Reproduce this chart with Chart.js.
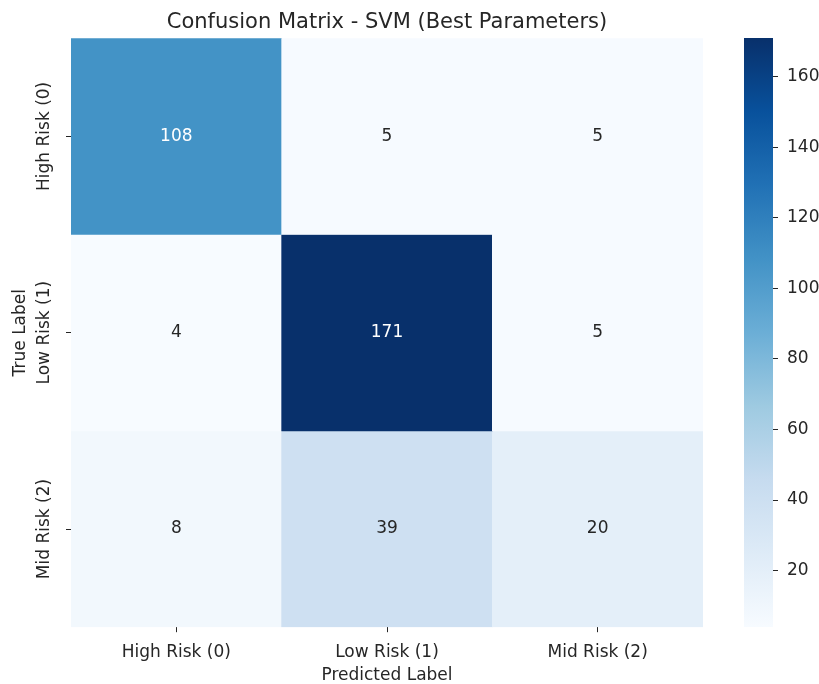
<!DOCTYPE html>
<html>
<head>
<meta charset="utf-8">
<script src="https://cdn.jsdelivr.net/npm/chart.js@4.4.1/dist/chart.umd.min.js"></script>
<style>
  html, body { margin: 0; padding: 0; background: #fff; }
  #wrap { position: relative; width: 819px; height: 684px; }
  #wrap canvas { position: absolute; left: 0; top: 0; }
</style>
</head>
<body>
<div id="wrap">
  <canvas id="matrixChart" width="819" height="684"></canvas>
  <canvas id="colorbarChart" width="819" height="684"></canvas>
</div>
<script>
// confusion matrix, one array per true-label row
const predictedLabels = ['High Risk (0)', 'Low Risk (1)', 'Mid Risk (2)'];
const trueLabels = ['High Risk (0)', 'Low Risk (1)', 'Mid Risk (2)'];
const rowHighRisk = [108, 5, 5];
const rowLowRisk = [4, 171, 5];
const rowMidRisk = [8, 39, 20];
const colorbarTicks = [20, 40, 60, 80, 100, 120, 140, 160];

const matrix = [rowHighRisk, rowLowRisk, rowMidRisk];
const vmin = Math.min(...matrix.flat());
const vmax = Math.max(...matrix.flat());

const textColor = '#262626';
const fontFamily = "'DejaVu Sans', sans-serif";
Chart.defaults.font.family = fontFamily;
Chart.defaults.color = textColor;

// matplotlib "Blues"
const bluesStops = ['#f7fbff', '#deebf7', '#c6dbef', '#9ecae1', '#6baed6',
                    '#4292c6', '#2171b5', '#08519c', '#08306b'];

function hexToRgb(h) {
  return [1, 3, 5].map(i => parseInt(h.slice(i, i + 2), 16));
}

function blues(v) {
  let t = (v - vmin) / (vmax - vmin);
  t = Math.max(0, Math.min(1, t));
  const pos = t * (bluesStops.length - 1);
  const i = Math.min(Math.floor(pos), bluesStops.length - 2);
  const f = pos - i;
  const a = hexToRgb(bluesStops[i]);
  const b = hexToRgb(bluesStops[i + 1]);
  const c = a.map((x, k) => Math.round(x + (b[k] - x) * f));
  return 'rgb(' + c.join(',') + ')';
}

// write the counts in the middle of each cell
const cellLabels = {
  id: 'cellLabels',
  afterDatasetsDraw(chart) {
    const ctx = chart.ctx;
    ctx.save();
    ctx.font = '17px ' + fontFamily;
    ctx.textAlign = 'center';
    ctx.textBaseline = 'middle';
    chart.data.datasets.forEach((ds, r) => {
      chart.getDatasetMeta(r).data.forEach((bar, c) => {
        const v = matrix[r][c];
        const t = (v - vmin) / (vmax - vmin);
        ctx.fillStyle = t > 0.55 ? '#ffffff' : textColor;
        ctx.fillText(String(v), bar.x, (bar.y + bar.base) / 2);
      });
    });
    ctx.restore();
  }
};

// vertical y tick labels (Chart.js can't center rotated y labels)
const yTickLabels = {
  id: 'yTickLabels',
  afterDraw(chart) {
    const scale = chart.scales.y;
    const ctx = chart.ctx;
    ctx.save();
    ctx.font = '17px ' + fontFamily;
    ctx.fillStyle = textColor;
    ctx.textAlign = 'center';
    ctx.textBaseline = 'middle';
    scale.ticks.forEach((t, i) => {
      ctx.save();
      ctx.translate(scale.right - 26, scale.getPixelForValue(t.value));
      ctx.rotate(-Math.PI / 2);
      ctx.fillText(trueLabels[i], 0, 0);
      ctx.restore();
    });
    ctx.restore();
  }
};

new Chart(document.getElementById('matrixChart'), {
  type: 'bar',
  data: {
    labels: predictedLabels,
    datasets: matrix.map((row, r) => ({
      label: trueLabels[r],
      data: row.map(() => [r, r + 1]),
      backgroundColor: row.map(v => blues(v)),
      borderWidth: 0,
      categoryPercentage: 1,
      barPercentage: 1,
      grouped: false
    }))
  },
  options: {
    responsive: false,
    animation: false,
    devicePixelRatio: 1,
    layout: { padding: { left: 10, right: 116, top: 0, bottom: 0 } },
    plugins: {
      legend: { display: false },
      tooltip: { enabled: false },
      title: {
        display: true,
        fullSize: false,
        text: 'Confusion Matrix - SVM (Best Parameters)',
        color: textColor,
        font: { size: 21, weight: 'normal' },
        padding: { top: 10, bottom: 3 }
      }
    },
    scales: {
      x: {
        grid: { offset: false, drawOnChartArea: false, tickLength: 5, color: textColor },
        border: { display: false },
        ticks: { font: { size: 17 }, color: textColor, padding: 10, maxRotation: 0 },
        title: {
          display: true,
          text: 'Predicted Label',
          color: textColor,
          font: { size: 17 },
          padding: { top: -7, bottom: -2 }
        }
      },
      y: {
        min: 0,
        max: 3,
        reverse: true,
        afterBuildTicks: scale => {
          scale.ticks = trueLabels.map((_, i) => ({ value: i + 0.5 }));
        },
        grid: { drawOnChartArea: false, tickLength: 5, color: textColor },
        border: { display: false },
        ticks: { callback: () => '', padding: 15.8 },
        title: {
          display: true,
          text: 'True Label',
          color: textColor,
          font: { size: 17 },
          padding: { top: 0, bottom: 4 }
        }
      }
    }
  },
  plugins: [cellLabels, yTickLabels]
});

// colorbar
new Chart(document.getElementById('colorbarChart'), {
  type: 'bar',
  data: {
    labels: [''],
    datasets: [{
      data: [[vmin, vmax]],
      backgroundColor: ctx => {
        const area = ctx.chart.chartArea;
        if (!area) return bluesStops[4];
        const g = ctx.chart.ctx.createLinearGradient(0, area.bottom, 0, area.top);
        bluesStops.forEach((c, i) => g.addColorStop(i / (bluesStops.length - 1), c));
        return g;
      },
      borderWidth: 0,
      categoryPercentage: 1,
      barPercentage: 1
    }]
  },
  options: {
    responsive: false,
    animation: false,
    devicePixelRatio: 1,
    layout: { padding: { left: 744, right: 0, top: 38, bottom: 57 } },
    plugins: { legend: { display: false }, tooltip: { enabled: false } },
    scales: {
      x: { display: false },
      y: {
        position: 'right',
        min: vmin,
        max: vmax,
        afterBuildTicks: scale => {
          scale.ticks = colorbarTicks.map(v => ({ value: v }));
        },
        // the layout caps a side axis at half the free width, so force it
        afterFit: scale => { scale.width = 46; },
        grid: { drawOnChartArea: false, tickLength: 5, color: textColor },
        border: { display: false },
        ticks: { font: { size: 17 }, color: textColor, padding: 9 }
      }
    }
  }
});
</script>
</body>
</html>
